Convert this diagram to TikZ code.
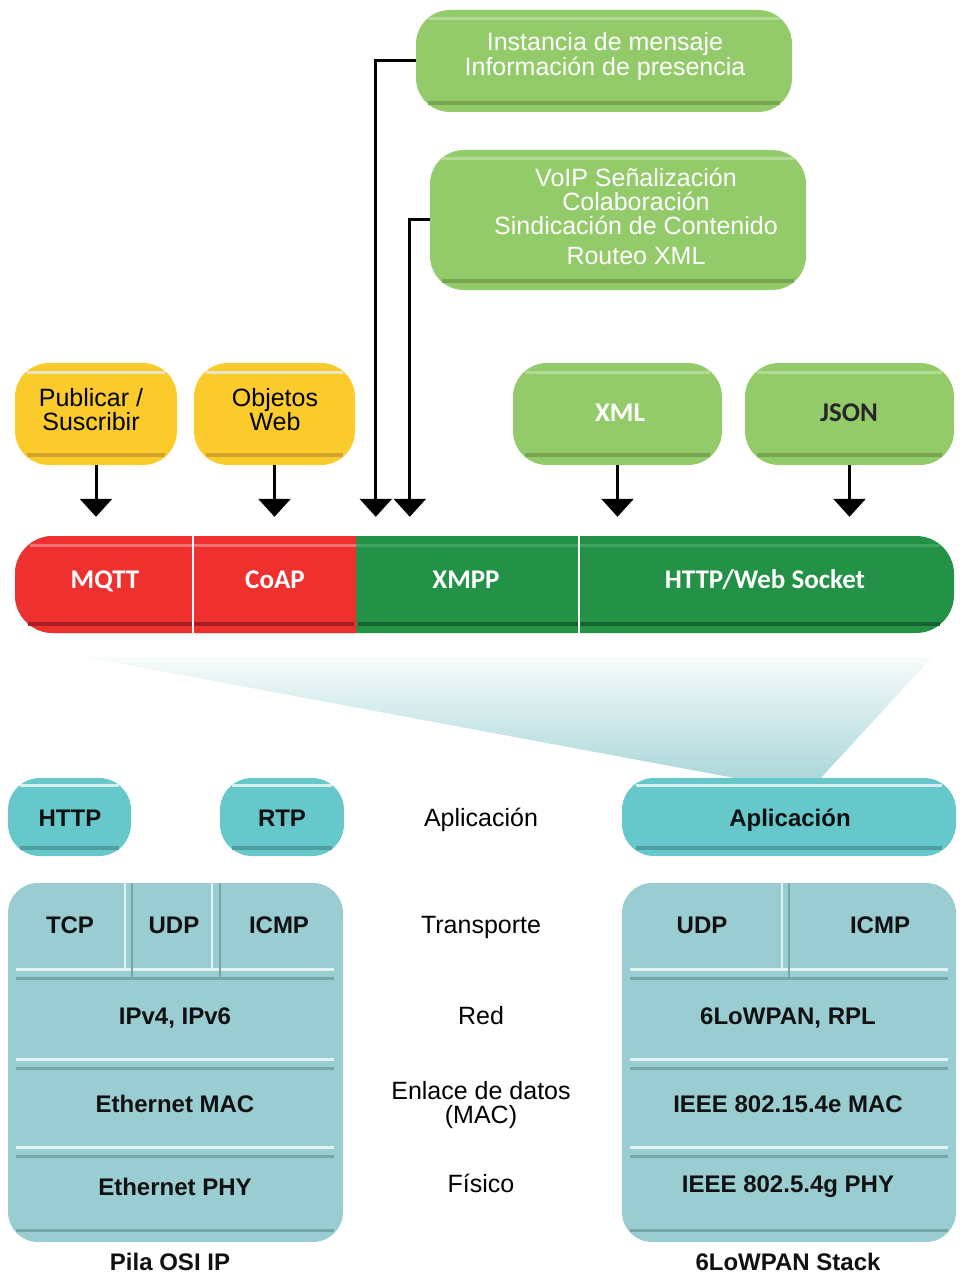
\documentclass[tikz,border=0pt]{standalone}
\usepackage{fontspec}
\setmainfont{Liberation Sans}
\newfontfamily\calfont{Carlito}
\usetikzlibrary{arrows.meta,calc}

\definecolor{lgreen}{HTML}{94CB6A}
\definecolor{lgreenhi}{HTML}{B3DB95}
\definecolor{lgreenlo}{HTML}{77A552}
\definecolor{yel}{HTML}{FBCB2B}
\definecolor{yelhi}{HTML}{E8E6C6}
\definecolor{yello}{HTML}{D0A32E}
\definecolor{redbar}{HTML}{EE312F}
\definecolor{redhi}{HTML}{F27373}
\definecolor{redlo}{HTML}{A61F22}
\definecolor{gbar}{HTML}{239247}
\definecolor{ghi}{HTML}{3FA561}
\definecolor{glo}{HTML}{17602F}
\definecolor{app}{HTML}{66C8CB}
\definecolor{apphi}{HTML}{D8EFEF}
\definecolor{applo}{HTML}{4F9FA1}
\definecolor{stk}{HTML}{9ACDD2}
\definecolor{stkhi}{HTML}{E3F3F4}
\definecolor{stklo}{HTML}{76A6A9}
\definecolor{funtop}{HTML}{F7FBFB}
\definecolor{funbot}{HTML}{ABD7DA}
\definecolor{ink}{HTML}{111111}

\newcommand\fsz[1]{\fontsize{#1}{#1}\selectfont}
% light strip near the top and dark strip near the bottom of a box
\newcommand\glint[5]{%
  \draw[#2, line width=3] ($(#1.north west)+(#4,#5)$) -- ($(#1.north east)+(-#4,#5)$);
  \draw[#3, line width=4] ($(#1.south west)+(#4,-#5)$) -- ($(#1.south east)+(-#4,-#5)$);}

\begin{document}
\begin{tikzpicture}[x=1pt,y=-1pt,
  panel/.style={inner sep=0pt, rounded corners=34pt},
  seg/.style={inner sep=0pt},
  wtxt/.style={anchor=base, text=white, font=\fsz{25}},
  btxt/.style={anchor=base, text=black, font=\fsz{25}},
  bartxt/.style={anchor=base, text=white, font=\calfont\bfseries\fsz{27}},
  lbl/.style={anchor=base, text=ink, font=\bfseries\fsz{24}},
  arr/.style={line width=3pt, -{Triangle[width=32pt,length=18pt]}}
]
\useasboundingbox (0,0) rectangle (966,1273);

% ---------- service boxes ----------
\node[panel, fill=lgreen, minimum width=376pt, minimum height=102pt] (im) at (604,61) {};
\glint{im}{lgreenhi}{lgreenlo}{12}{9}
\node[wtxt] (imA) at (605,51) {Instancia de mensaje};
\node[wtxt] (imB) at (605,76) {Información de presencia};

\node[panel, fill=lgreen, minimum width=376pt, minimum height=140pt] (voip) at (618,220) {};
\glint{voip}{lgreenhi}{lgreenlo}{12}{9}
\node[wtxt] (voA) at (636,187) {VoIP Señalización};
\node[wtxt] (voB) at (636,211) {Colaboración};
\node[wtxt] (voC) at (636,235) {Sindicación de Contenido};
\node[wtxt] (voD) at (636,264) {Routeo XML};

\node[panel, fill=yel, minimum width=162pt, minimum height=102pt] (pub) at (96,414) {};
\glint{pub}{yelhi}{yello}{12}{10}
\node[btxt] (pubA) at (91,406) {Publicar /};
\node[btxt] (pubB) at (91,430) {Suscribir};

\node[panel, fill=yel, minimum width=161pt, minimum height=102pt] (obj) at (274.5,414) {};
\glint{obj}{yelhi}{yello}{12}{10}
\node[btxt] (objA) at (275,406) {Objetos};
\node[btxt] (objB) at (275,430) {Web};

\node[panel, fill=lgreen, minimum width=209pt, minimum height=102pt] (xml) at (617.5,414) {};
\glint{xml}{lgreenhi}{lgreenlo}{12}{10}
\node[bartxt] (xmlT) at (620,421) {XML};

\node[panel, fill=lgreen, minimum width=209pt, minimum height=102pt] (json) at (849.5,414) {};
\glint{json}{lgreenhi}{lgreenlo}{12}{10}
\node[bartxt, text=black!85] (jsonT) at (849,421) {JSON};

% ---------- protocol bar ----------
\fill[gbar, rounded corners=38pt] (15,536) rectangle (954,633);
\begin{scope}
  \clip (0,520) rectangle (356,650);
  \fill[redbar, rounded corners=38pt] (15,536) rectangle (954,633);
\end{scope}
\draw[redhi, line width=3] (30,545) -- (356,545);
\draw[ghi, line width=3] (356,545) -- (940,545);
\draw[redlo, line width=4] (28,624) -- (354,624);
\draw[glo, line width=4] (358,624) -- (940,624);
\draw[white, line width=2.5] (193,536) -- (193,633);
\draw[white, line width=2.5] (579,536) -- (579,633);

\node[seg, minimum width=178pt, minimum height=97pt] (mqtt) at (104,584.5) {};
\node[seg, minimum width=163pt, minimum height=97pt] (coap) at (274.5,584.5) {};
\node[seg, minimum width=223pt, minimum height=97pt] (xmpp) at (467.5,584.5) {};
\node[seg, minimum width=375pt, minimum height=97pt] (http) at (766.5,584.5) {};
\node[bartxt] (mqttT) at (105,588) {MQTT};
\node[bartxt] (coapT) at (275,588) {CoAP};
\node[bartxt] (xmppT) at (466,588) {XMPP};
\node[bartxt] (httpT) at (765,588) {HTTP/Web Socket};

% ---------- connectors ----------
\draw[arr, shorten >=19pt] (pub.south) -- (pub.south |- mqtt.north);
\draw[arr, shorten >=19pt] (obj.south) -- (obj.south |- coap.north);
\draw[arr, shorten >=19pt] (xml.south) -- (xml.south |- http.north);
\draw[arr, shorten >=19pt] (json.south) -- (json.south |- http.north);
\draw[arr, shorten >=19pt] (im.west) -| ($(xmpp.north west)+(20,0)$);
\draw[arr, shorten >=19pt] (voip.west) -| ($(xmpp.north west)+(54,0)$);

% ---------- zoom funnel ----------
\shade[top color=funtop, bottom color=funbot] (85,657) -- (932,657) -- (820,779) -- (740,779) -- cycle;

% ---------- application row ----------
\node[panel, rounded corners=32pt, fill=app, minimum width=123pt, minimum height=78pt] (hbox) at (69.5,817) {};
\glint{hbox}{apphi}{applo}{12}{8}
\node[lbl] (hboxT) at (70,826) {HTTP};
\node[panel, rounded corners=32pt, fill=app, minimum width=124pt, minimum height=78pt] (rbox) at (282,817) {};
\glint{rbox}{apphi}{applo}{12}{8}
\node[lbl] (rboxT) at (282,826) {RTP};
\node[panel, rounded corners=32pt, fill=app, minimum width=334pt, minimum height=78pt] (abox) at (789,817) {};
\glint{abox}{apphi}{applo}{14}{8}
\node[lbl] (aboxT) at (790,826) {Aplicación};

% ---------- layer names ----------
\node[btxt] (lApp) at (481,826) {Aplicación};
\node[btxt] (lTra) at (481,933) {Transporte};
\node[btxt] (lRed) at (481,1024) {Red};
\node[btxt] (lEnA) at (481,1099) {Enlace de datos};
\node[btxt] (lEnB) at (481,1123) {(MAC)};
\node[btxt] (lFis) at (481,1192) {Físico};

% ---------- OSI / IP stack ----------
\node[panel, rounded corners=30pt, fill=stk, minimum width=335pt, minimum height=359pt] (osi) at (175.5,1062.5) {};
\foreach \y in {969,1059,1147} \draw[stkhi, line width=3] (16,\y) -- (334,\y);
\foreach \y in {978,1068,1156,1230} \draw[stklo, line width=3] (16,\y) -- (334,\y);
\draw[stkhi, line width=2.5] (125,883) -- (125,969);
\draw[stklo, line width=2.5] (132,883) -- (132,978);
\draw[stkhi, line width=2.5] (212,883) -- (212,969);
\draw[stklo, line width=2.5] (220,883) -- (220,978);
\node[lbl] (tcp) at (70,933) {TCP};
\node[lbl] (udpA) at (174,933) {UDP};
\node[lbl] (icmpA) at (279,933) {ICMP};
\node[lbl] (ip) at (175,1024) {IPv4, IPv6};
\node[lbl] (emac) at (175,1112) {Ethernet MAC};
\node[lbl] (ephy) at (175,1195) {Ethernet PHY};
\node[lbl] (osiT) at (170,1270) {Pila OSI IP};

% ---------- 6LoWPAN stack ----------
\node[panel, rounded corners=30pt, fill=stk, minimum width=334pt, minimum height=359pt] (low) at (789,1062.5) {};
\foreach \y in {969,1059,1147} \draw[stkhi, line width=3] (630,\y) -- (948,\y);
\foreach \y in {978,1068,1156,1230} \draw[stklo, line width=3] (630,\y) -- (948,\y);
\draw[stkhi, line width=2.5] (782,883) -- (782,969);
\draw[stklo, line width=2.5] (789,883) -- (789,978);
\node[lbl] (udpB) at (702,933) {UDP};
\node[lbl] (icmpB) at (880,933) {ICMP};
\node[lbl] (rpl) at (788,1024) {6LoWPAN, RPL};
\node[lbl] (mac) at (788,1112) {IEEE 802.15.4e MAC};
\node[lbl] (phy) at (788,1192) {IEEE 802.5.4g PHY};
\node[lbl] (lowT) at (788,1270) {6LoWPAN Stack};
\end{tikzpicture}
\end{document}
